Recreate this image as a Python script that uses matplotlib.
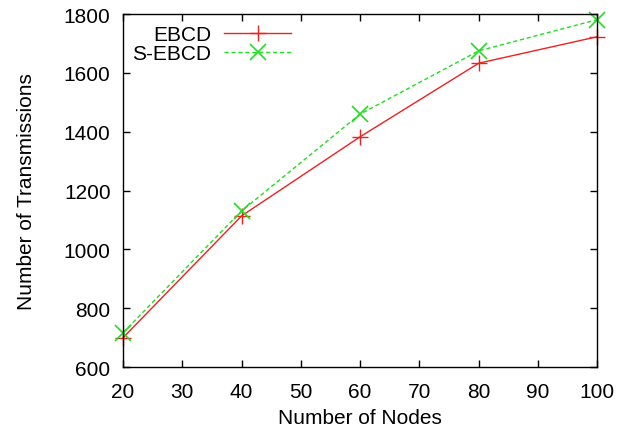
import matplotlib.pyplot as plt

nodes = [20, 40, 60, 80, 100]
ebcd = [700, 1114, 1383, 1633, 1723]
s_ebcd = [717, 1131, 1460, 1675, 1781]

plt.rcParams['font.family'] = ['Liberation Sans', 'DejaVu Sans']

fig = plt.figure(figsize=(6.28, 4.31), dpi=100)
ax = fig.add_axes([0.196, 0.146, 0.755, 0.819])

ax.plot(nodes, ebcd, color='#ee2020', lw=1.0, marker='+', ms=11, mew=1.0,
        label='EBCD', clip_on=False)
ax.plot(nodes, s_ebcd, color='#22dd22', lw=1.0, ls=(0, (3, 2)), marker='x', ms=12, mew=1.2,
        label='S-EBCD', clip_on=False)

ax.set_xlim(20, 100)
ax.set_ylim(600, 1800)
ax.set_xticks(range(20, 101, 10))
ax.set_yticks(range(600, 1801, 200))
ax.tick_params(direction='in', length=5, width=1, labelsize=15, top=True, right=True)
ax.tick_params(axis='y', pad=9)
ax.tick_params(axis='x', pad=11)
for s in ax.spines.values():
    s.set_linewidth(1)

ax.set_xlabel('Number of Nodes', fontsize=15, labelpad=5)
ax.set_ylabel('Number of Transmissions', fontsize=15, labelpad=20)

leg = ax.legend(loc='upper left', markerfirst=False, frameon=False, fontsize=15,
                handlelength=3.2, handletextpad=0.63, labelspacing=0.0,
                borderpad=0, borderaxespad=0, bbox_to_anchor=(0.019, 0.968))
for t in leg.get_texts():
    t.set_ha('right')

fig.savefig('out.png', dpi=100)
